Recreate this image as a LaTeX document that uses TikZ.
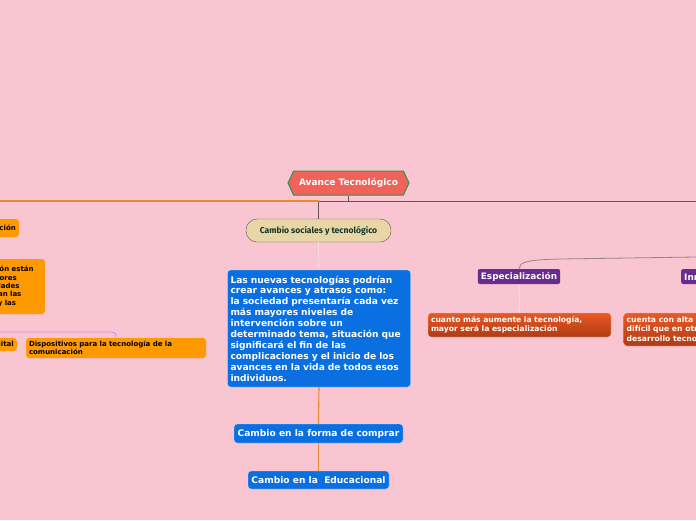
\documentclass[tikz,border=0pt]{standalone}
\usepackage{fontspec}
\setmainfont{DejaVu Sans}
\newfontfamily\firafont{Fira Sans}
\usepackage{xcolor}
\usetikzlibrary{positioning,shapes.symbols}

\definecolor{bgpink}{RGB}{249,197,209}
\definecolor{hexred}{RGB}{240,98,90}
\definecolor{hexgreen}{RGB}{40,150,80}
\definecolor{tan}{RGB}{232,214,166}
\definecolor{darkgreen}{RGB}{25,55,40}
\definecolor{nodeblue}{RGB}{10,112,226}
\definecolor{nodeorange}{RGB}{255,153,0}
\definecolor{nodepurple}{RGB}{104,44,145}
\definecolor{redtop}{RGB}{232,90,36}
\definecolor{redbot}{RGB}{176,58,20}
\definecolor{darkline}{RGB}{100,85,88}
\definecolor{orangeline}{RGB}{232,138,48}
\definecolor{paleline}{RGB}{243,220,228}
\definecolor{violetline}{RGB}{214,140,222}

\begin{document}
\begin{tikzpicture}[
    x=1pt, y=-1pt,
    hexa/.style={signal, signal to=west and east, signal pointer angle=130, fill=hexred, draw=hexgreen, line width=1pt, text=white, font=\bfseries\fontsize{9}{10}\selectfont, minimum width=121pt, minimum height=24pt, inner sep=1pt},
    social/.style={draw=darkline, fill=tan, rounded corners=11pt, text=darkgreen, font=\firafont\bfseries\fontsize{8.6}{9}\selectfont, minimum width=145pt, minimum height=23pt},
    bluebox/.style={draw=white!75!nodeblue, fill=nodeblue, rounded corners=3pt, text=white, font=\bfseries\fontsize{9.1}{10.9}\selectfont, inner sep=3pt},
    orangebox/.style={fill=nodeorange, rounded corners=3pt, text=black, font=\bfseries\fontsize{7}{8.3}\selectfont, align=left, inner sep=3pt},
    purplebox/.style={fill=nodepurple, rounded corners=2pt, text=white, font=\bfseries\fontsize{8.9}{9}\selectfont, minimum height=15pt, inner sep=3pt},
    redbox/.style={draw=white!60!redtop, top color=redtop, bottom color=redbot, rounded corners=3pt, text=white, font=\bfseries\fontsize{7.65}{9.5}\selectfont, align=left, inner sep=3pt},
    dark/.style={draw=darkline, line width=0.9pt},
    orangeln/.style={draw=orangeline, line width=1.1pt},
    pale/.style={draw=paleline, line width=0.9pt}
]
\useasboundingbox[fill=bgpink] (0,0) rectangle (696,520);
\clip (0,0) rectangle (696,520);

% centre
\node[hexa] (avance) at (348.5,183) {Avance Tecnológico};
\node[social] (sociales) at (318.5,230.5) {Cambio sociales y tecnológico};
\node[bluebox, text width=177pt, align=left, minimum height=117pt] (nuevas) at (319,328.5) {Las nuevas tecnologías podrían\\crear avances y atrasos como:\\la sociedad presentaría cada vez\\más mayores niveles de\\intervención sobre un\\determinado tema, situación que\\significará el fin de las\\complicaciones y el inicio de los\\avances en la vida de todos esos\\individuos.};
\node[bluebox, minimum width=169pt, minimum height=19pt] (comprar) at (318.5,433.5) {Cambio en la forma de comprar};
\node[bluebox, minimum width=141pt, minimum height=18pt] (educacional) at (318.5,480) {Cambio en la\ \ Educacional};

% left branch
\node[orangebox, anchor=east, minimum height=18pt] (comunicacion) at (19,228) {Medios de comunicación};
\node[orangebox, anchor=east, minimum height=55pt, text width=145pt] (medios) at (45,286.5) {Los medios de comunicación están\\presentes en muchos sectores\\y facilitan variadas actividades\\cotidianas, que hoy realizan las\\personas en sus trabajos y las};
\node[orangebox, anchor=east, minimum height=13pt, inner xsep=3pt, inner ysep=2pt] (digital) at (17,344.5) {Tecnología digital};
\node[orangebox, text width=174pt, minimum height=20pt] (dispositivos) at (116,348) {Dispositivos para la tecnología de la\\comunicación};

% right branch
\node[purplebox] (especializacion) at (519,276.5) {Especialización};
\node[purplebox, anchor=west] (innovacion) at (681,276.5) {Innovación};
\node[redbox, text width=177pt, minimum height=24pt] (cuanto) at (519.5,325) {cuanto más aumente la tecnología,\\mayor será la especialización};
\node[redbox, anchor=west, minimum height=33pt] (cuenta) at (623.5,329.5) {cuenta con alta tecnología, es más\\difícil que en otros países tener\\desarrollo tecnológico};

\coordinate (rootjoin) at (348.5,201);
\coordinate (socjoin) at (318.5,201);
\coordinate (leftend) at (0,201);
\coordinate (rightend) at (696,201);
\coordinate (curveend) at (696,257);
\coordinate (violetend) at (0,332);

\draw[dark] (avance.south) -- (rootjoin);
\draw[dark] (socjoin) -- (rightend);
\draw[dark] (socjoin) -- (sociales.north);
\draw[orangeln] (leftend) -- (socjoin);
\draw[pale] (sociales.south) -- (nuevas.north);
\draw[orangeln] (nuevas.south) -- (comprar.north);
\draw[orangeln] (comprar.south) -- (educacional.north);
\draw[draw=violetline, line width=0.9pt, rounded corners=4pt] (violetend) -| (dispositivos.north);
\draw[draw=darkline!70, line width=0.8pt] (curveend) -- (560,259) .. controls (525,260) and (520,262) .. (especializacion.north);
\draw[pale] (especializacion.south) -- (cuanto.north);
\end{tikzpicture}
\end{document}
